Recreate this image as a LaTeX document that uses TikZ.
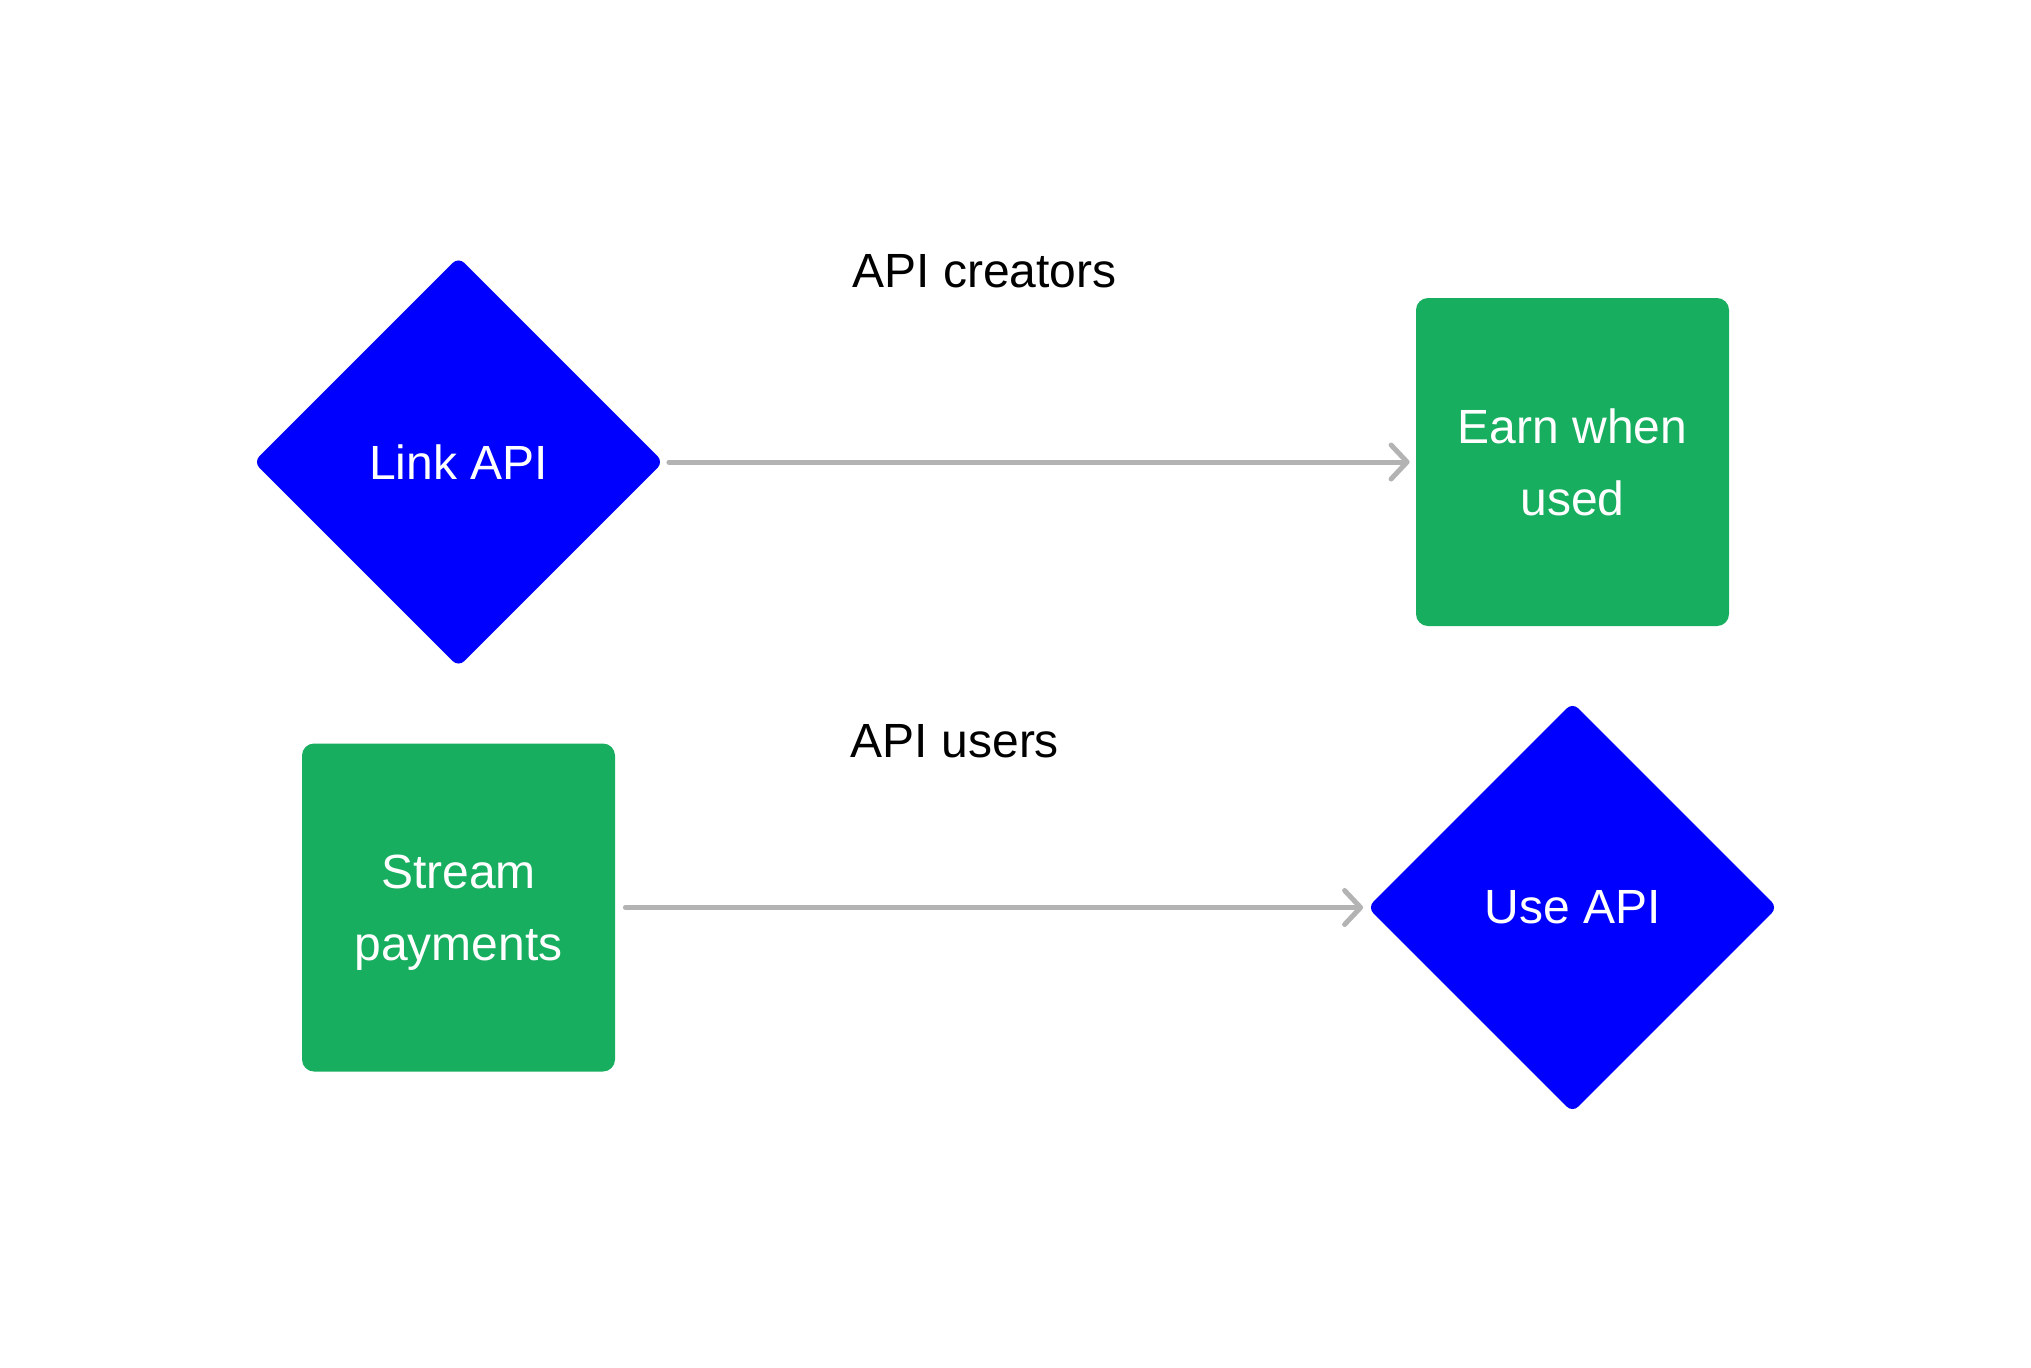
\documentclass[tikz,border=0pt]{standalone}
\usepackage{fontspec}
\setmainfont{Liberation Sans}
\usetikzlibrary{shapes.geometric,arrows.meta}
\definecolor{dblue}{HTML}{0000FF}
\definecolor{dgreen}{HTML}{17AE5F}
\definecolor{agrey}{HTML}{B3B3B3}
\begin{document}
\begin{tikzpicture}[x=0.5pt,y=-0.5pt,
  dia/.style={diamond,aspect=1,minimum width=205pt,minimum height=205pt,inner sep=0pt,
    fill=dblue,rounded corners=4pt,text=white,font=\fontsize{24}{36}\selectfont},
  gbox/.style={rectangle,minimum width=156.5pt,minimum height=164pt,inner sep=0pt,
    fill=dgreen,rounded corners=6pt,text=white,align=center,font=\fontsize{24}{36}\selectfont},
  lab/.style={anchor=base,font=\fontsize{24}{28}\selectfont,text=black},
  arr/.style={draw=agrey,line width=2.5pt,line cap=round,
    -{Straight Barb[length=8pt,width=17pt,round]}}]
\useasboundingbox (0,0) rectangle (2031,1367);
\node[dia] (d1) at (458.5,462) {Link API};
\node[gbox] (e1) at (1572.5,462) {Earn when\\used};
\node[gbox] (s2) at (458.5,907.5) {Stream\\\smash{payments}};
\node[dia] (d2) at (1572.5,907.5) {Use API};
\node[lab] (l1) at (984.5,287) {API creators};
\node[lab] (l2) at (955,757) {API users};
\draw[arr,shorten <=2.5pt,shorten >=3pt] (d1.east) -- (e1.west);
\draw[arr,shorten <=5pt,shorten >=2pt] (s2.east) -- (d2.west);
\end{tikzpicture}
\end{document}
